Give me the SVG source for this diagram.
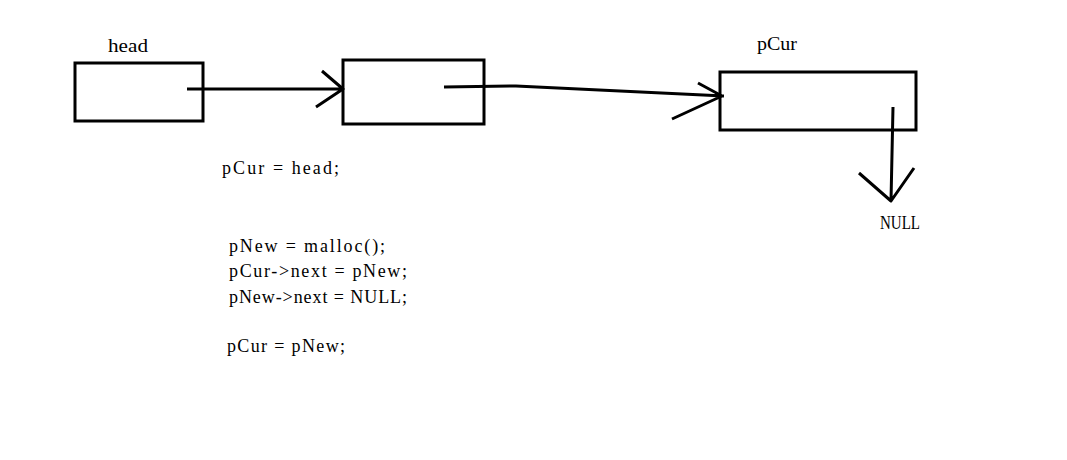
<svg xmlns="http://www.w3.org/2000/svg" width="1067" height="460" viewBox="0 0 1067 460">
<style>
.box{fill:none;stroke:#000;stroke-width:3}
.ln{fill:none;stroke:#000;stroke-width:3;stroke-linecap:butt;stroke-linejoin:round}
.t{font-family:"Liberation Serif","DejaVu Serif",serif;font-size:18px;fill:#000}
</style>
<rect width="1067" height="460" fill="#fff"/>
<g id="node-head">
<rect class="box" x="75" y="63" width="128" height="58"/>
<text class="t" x="108" y="52" textLength="40" lengthAdjust="spacingAndGlyphs">head</text>
</g>
<g id="node-2">
<rect class="box" x="343" y="60" width="141" height="64"/>
</g>
<g id="node-pCur">
<rect class="box" x="720" y="72" width="196" height="58"/>
<text class="t" x="757" y="50" textLength="40" lengthAdjust="spacingAndGlyphs">pCur</text>
</g>
<g id="node-null">
<text class="t" x="880" y="229" textLength="40" lengthAdjust="spacingAndGlyphs">NULL</text>
</g>
<g id="connectors">
<path class="ln" d="M187,89 L343,89 M322,71 L343,89 L316,107"/>
<path class="ln" d="M444,87 L516,86 L724,96 M698,83 L722,96 L672,119"/>
<path class="ln" d="M893,107 L891,201 M859,173 L891,201 L914,168"/>
</g>
<g id="code">
<text class="t" x="222" y="174" textLength="117" lengthAdjust="spacing">pCur = head;</text>
<text class="t" x="229" y="252" textLength="156" lengthAdjust="spacing">pNew = malloc();</text>
<text class="t" x="229" y="277" textLength="178" lengthAdjust="spacing">pCur-&gt;next = pNew;</text>
<text class="t" x="229" y="303" textLength="178" lengthAdjust="spacing">pNew-&gt;next = NULL;</text>
<text class="t" x="227" y="352" textLength="118" lengthAdjust="spacing">pCur = pNew;</text>
</g>
</svg>
